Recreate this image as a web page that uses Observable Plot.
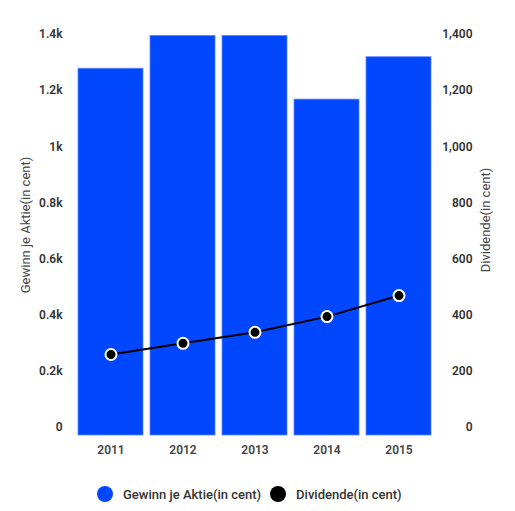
<!DOCTYPE html>
<html>
<head>
<meta charset="utf-8">
<script src="https://cdn.jsdelivr.net/npm/d3@7"></script>
<script src="https://cdn.jsdelivr.net/npm/@observablehq/plot@0.6"></script>
<style>
  body { margin: 0; background: #fff; font-family: Roboto, "Noto Sans", sans-serif; }
  #chart svg { display: block; }
  .legend { display: flex; align-items: center; margin-left: 97px; margin-top: 16px; font-size: 13px; color: #333; font-weight: 500; }
  .legend .sw { width: 16px; height: 16px; border-radius: 50%; display: inline-block; margin-right: 10px; }
  .legend .item { display: flex; align-items: center; margin-right: 9px; }
</style>
</head>
<body>
<div id="chart"></div>
<script>
const years = ["2011", "2012", "2013", "2014", "2015"];
const gewinn = [1278, 1395, 1395, 1168, 1319];
const dividende = [260, 300, 339, 395, 470];
const yTicks = [0, 200, 400, 600, 800, 1000, 1200, 1400];
const seriesNames = ["Gewinn je Aktie(in cent)", "Dividende(in cent)"];
const colors = ["#0047ff", "#000000"];

const data = years.map((y, i) => ({year: y, gewinn: gewinn[i], dividende: dividende[i]}));

const leftFmt = d => d === 0 ? "0" : (d / 1000) + "k";

const plot = Plot.plot({
  width: 515,
  height: 470,
  marginTop: 34,
  marginBottom: 43,
  marginLeft: 69,
  marginRight: 75,
  style: {fontFamily: "Roboto, 'Noto Sans', sans-serif", fontSize: "12px", color: "#333"},
  x: {domain: years, padding: 0.1, label: null},
  y: {domain: [0, 1400], label: null},
  marks: [
    Plot.barY(data, {x: "year", y: "gewinn", fill: colors[0], stroke: "#5b86ff", strokeWidth: 0.8, insetBottom: -8, insetLeft: 0, insetRight: 0}),
    Plot.axisX({tickSize: 0, tickPadding: 18, fontWeight: 600, fill: "#444", label: null}),
    Plot.axisY({anchor: "left", ticks: yTicks, tickFormat: leftFmt, tickSize: 0, tickPadding: 7, fontWeight: 600, fill: "#333", label: null}),
    Plot.axisY({anchor: "right", ticks: yTicks, tickFormat: d3.format(","), tickSize: 0, tickPadding: 32, textAnchor: "end", fontWeight: 600, fill: "#333", label: null}),
    Plot.text([seriesNames[0]], {frameAnchor: "left", textAnchor: "middle", rotate: -90, dx: -44, dy: -6, fontSize: 13, fill: "#444"}),
    Plot.text([seriesNames[1]], {frameAnchor: "right", textAnchor: "middle", rotate: -90, dx: 45, dy: -11, fontSize: 13, fill: "#444"}),
    Plot.line(data, {x: "year", y: "dividende", stroke: colors[1], strokeWidth: 2}),
    Plot.dot(data, {x: "year", y: "dividende", fill: colors[1], stroke: "#fff", strokeWidth: 2, r: 5.5})
  ]
});
document.getElementById("chart").appendChild(plot);

const legend = document.createElement("div");
legend.className = "legend";
seriesNames.forEach((n, i) => {
  const it = document.createElement("span");
  it.className = "item";
  const sw = document.createElement("span");
  sw.className = "sw";
  sw.style.background = colors[i];
  it.appendChild(sw);
  it.appendChild(document.createTextNode(n));
  legend.appendChild(it);
});
document.body.appendChild(legend);
</script>
</body>
</html>
